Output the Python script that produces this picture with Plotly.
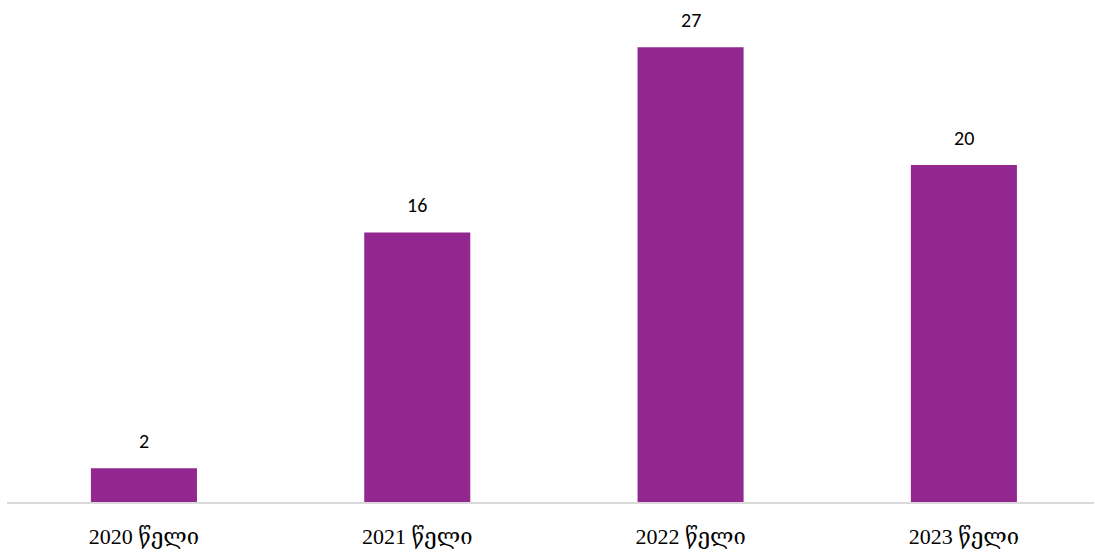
import plotly.graph_objects as go

categories = ["2020 წელი", "2021 წელი", "2022 წელი", "2023 წელი"]
values = [2, 16, 27, 20]
bar_color = "#92278F"

fig = go.Figure()
fig.add_trace(go.Bar(
    x=categories, y=values,
    marker=dict(color=bar_color, line=dict(width=0)),
    hoverinfo="skip",
))

for c, v in zip(categories, values):
    fig.add_annotation(x=c, y=v, text=str(v), showarrow=False,
                       yanchor="bottom", yshift=13,
                       font=dict(family="Carlito, Lato, Liberation Sans, sans-serif", size=20, color="#000000"))

fig.update_layout(
    width=1095, height=552,
    margin=dict(l=7, r=1, t=0, b=50),
    plot_bgcolor="white", paper_bgcolor="white",
    bargap=0.612,
    showlegend=False,
    xaxis=dict(showline=True, linecolor="#d9d9d9", linewidth=2, ticks="",
               showgrid=False, zeroline=False, range=[-0.501, 3.476],
               tickfont=dict(family="Liberation Serif, DejaVu Serif, serif", size=22, color="#000000"),
               ticklabelstandoff=14),
    yaxis=dict(range=[0, 29.8], visible=False, showgrid=False, zeroline=False),
)

fig.write_html("out.html", config={"displayModeBar": False},
               post_script="document.body.style.margin='0';document.body.style.overflow='hidden';")
